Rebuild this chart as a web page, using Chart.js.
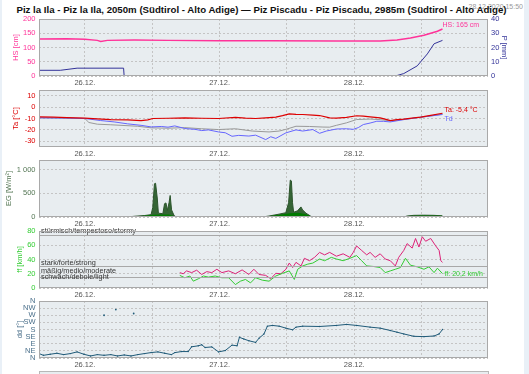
<!DOCTYPE html>
<html><head><meta charset="utf-8">
<script src="https://cdn.jsdelivr.net/npm/chart.js@4"></script>
<style>
html,body{margin:0;padding:0;background:#fff;width:529px;height:374px;overflow:hidden;position:relative;font-family:"Liberation Sans",Arial,sans-serif}
canvas{position:absolute;left:0}
#title{position:absolute;left:0;width:529px;text-align:center;font-weight:bold;white-space:nowrap;color:#111}
#stamp{position:absolute;top:3px;right:6px;font-size:7px;color:#9a9a9a}
#stripR{position:absolute;left:524px;top:0;width:5px;height:374px;background:#e9f0f7}
#stripL{position:absolute;left:0;top:0;width:2px;height:374px;background:#e9f0f7}
#next{position:absolute;left:39px;top:371px;width:448px;height:10px;border:1px solid #b8b8b8;background:#e8edf0}
</style></head>
<body>
<div id="stripL"></div><div id="stripR"></div>
<div id="stamp">28.12.2020 15:50</div>
<div id="title">Piz la Ila - Piz la Ila, 2050m (Südtirol - Alto Adige) — Piz Piscadu - Piz Piscadu, 2985m (Südtirol - Alto Adige)</div>
<canvas id="c1" width="529" height="79"></canvas>
<canvas id="c2" width="529" height="79"></canvas>
<canvas id="c3" width="529" height="79"></canvas>
<canvas id="c4" width="529" height="79"></canvas>
<canvas id="c5" width="529" height="79"></canvas>
<div id="next"></div>
<script>
// ---------- DATA (hours relative to 26.12. 00:00) ----------
const xTickHours = [0, 24, 48];
const xTickLabels = ['26.12.', '27.12.', '28.12.'];
const xGridHours = [0, 12, 24, 36, 48, 60];

const hsHours  = [-8.16, -3.18, 0, 2.22, 2.82, 4.02, 8.82, 14.82, 23.82, 32.82, 44.82, 52.62, 55.62, 58.02, 60.42, 62.82, 63.72];
const hsValues = [129.8, 131, 128.6, 125, 121.4, 125, 126, 125, 123.8, 123.8, 122.6, 122.6, 126, 133, 143, 157, 165];

const pHours  = [-8.16, -4.38, -1.38, 6.9, 7.0, 55.32, 56.82, 59.22, 61.02, 62.22, 63.72];
const pValues = [4, 4, 5.5, 5.5, 0, 0, 1.7, 7.1, 15.5, 22.6, 25];

const taHours  = [-8.16, -5.58, -3.18, 0, 2.22, 4.62, 7.62, 10.02, 11.22, 12.12, 14.82, 17.82, 20.82, 23.82, 26.82, 28.62, 30.42, 32.22, 34.02, 35.22, 36.42, 37.62, 38.82, 40.62, 41.82, 43.62, 44.82, 46.62, 48.42, 49.62, 50.82, 52.62, 53.82, 54.42, 55.62, 56.82, 58.62, 59.82, 61.62, 63.72];
const taValues = [-8.5, -8.8, -9.2, -9.7, -10.3, -11, -11.2, -11.8, -11.2, -10, -9.8, -9.4, -9.8, -10, -9, -9.6, -10, -9.4, -8.8, -7.5, -5.9, -6.3, -6.5, -7, -7.4, -9.4, -9.6, -9, -7.6, -8, -8.5, -9.5, -11, -11.8, -11, -10.5, -9.4, -8.8, -7.2, -5.4];

const tdHours  = [-8.16, -3.18, 0, 2.82, 5.22, 7.62, 10.02, 11.82, 13.62, 14.82, 16.02, 17.82, 19.62, 20.82, 22.02, 23.82, 25.02, 26.22, 27.42, 29.22, 30.42, 32.22, 33.12, 34.02, 35.82, 37.62, 38.82, 40.62, 41.82, 43.02, 44.82, 46.62, 47.82, 48.72, 49.62, 50.82, 52.02, 53.22, 54.42, 55.62, 56.82, 59.82, 61.62, 63.72];
const tdValues = [-9.4, -9.6, -10, -11.8, -13, -14.7, -16, -17.4, -17, -17.6, -16.5, -18.8, -19.5, -20.6, -20, -21.8, -22.5, -25.6, -24.8, -25.4, -24.6, -28.5, -26, -27.5, -22.6, -20, -21, -19.7, -23, -21, -19.2, -19, -19.5, -18, -15.3, -14, -12.4, -12.5, -13, -12, -11, -8.8, -7.8, -6.5];

const t2Hours  = [-8.16, 0, 0.72, 2.22, 4.62, 9.42, 11.82, 14.82, 17.82, 20.82, 23.82, 26.82, 29.82, 32.82, 34.62, 35.82, 37.62, 40.02, 42.42, 43.62, 44.82, 46.62, 48.42, 50.82, 52.62, 54.42, 56.82, 59.82, 63.72];
const t2Values = [-9.4, -10, -13.5, -15, -15.5, -16.8, -18.2, -18.5, -18, -19, -19.7, -19, -21, -21.8, -21, -19.5, -16.8, -17, -17.5, -17.6, -16, -13.8, -10.9, -10.5, -11, -12, -10.8, -9, -6.2];

const egHours  = [-8.16, 7.6, 8.8, 10.6, 11.8, 12.1, 12.4, 12.6, 12.9, 13.1, 13.9, 14.2, 14.45, 14.7, 15.0, 15.2, 15.45, 15.9, 16.3, 31.6, 32.8, 34.6, 35.8, 36.3, 36.6, 36.8, 37.0, 37.2, 37.9, 38.5, 38.8, 39.4, 40.2, 40.6, 56.8, 57.4, 58.6, 60.4, 62.2, 63.7];
const egValues = [0, 0, 15, 30, 50, 200, 700, 710, 400, 80, 70, 280, 296, 140, 300, 453, 150, 30, 0, 0, 20, 60, 90, 300, 777, 760, 300, 100, 130, 212, 150, 80, 20, 0, 0, 20, 35, 38, 35, 25];
const egBaseHours  = [-8.16, 7.6, 9, 11, 12, 13.5, 15, 15.9, 16.3, 31.6, 33, 35, 36.5, 38, 39.4, 40.3, 40.6, 56.8, 57.4, 60, 63.7];
const egBaseValues = [0, 0, 10, 30, 45, 55, 55, 20, 0, 0, 20, 55, 80, 90, 60, 15, 0, 0, 20, 30, 25];

const ffxHours  = [16.92, 17.52, 18.12, 19.02, 19.92, 20.82, 21.72, 22.62, 23.52, 24.42, 25.62, 26.82, 28.02, 29.22, 30.12, 31.02, 32.22, 33.12, 34.02, 34.92, 35.82, 36.42, 37.02, 37.62, 38.52, 39.12, 40.02, 40.92, 41.82, 42.72, 43.62, 44.82, 46.02, 47.22, 47.82, 48.42, 49.32, 50.22, 50.82, 51.72, 52.62, 53.52, 54.42, 55.32, 55.92, 56.82, 57.42, 58.32, 58.92, 59.52, 60.12, 60.72, 61.62, 62.52, 63.12, 63.42, 63.72];
const ffxValues = [21.6, 20, 24, 21.6, 25, 19, 23, 21.6, 26.3, 21.6, 24, 20, 25.4, 19, 26.3, 19, 17.7, 12.9, 20.6, 20, 26.3, 35, 28.7, 36, 31, 41.7, 38.3, 43, 50, 46.5, 50, 44.6, 48, 43, 50, 59, 52.7, 46.5, 50, 43, 48, 40.7, 38.3, 31, 43, 52.7, 62.3, 56, 69.5, 57.5, 71.9, 65.6, 69.5, 59, 52.7, 38.3, 36];
const ffHours  = [16.92, 17.82, 18.72, 19.32, 20.22, 21.12, 22.02, 23.22, 24.42, 25.62, 26.82, 27.72, 28.62, 29.52, 30.42, 31.62, 32.82, 34.02, 35.22, 36.42, 37.32, 37.92, 38.82, 39.72, 40.62, 41.82, 42.72, 43.92, 44.82, 46.02, 47.22, 48.42, 49.32, 50.22, 51.42, 52.62, 53.52, 54.42, 55.32, 56.22, 57.12, 58.02, 59.22, 60.42, 61.32, 62.22, 62.82, 63.72];
const ffValues = [17.7, 14.4, 16.8, 9.6, 12.9, 16.8, 15.3, 16.8, 14.4, 14.4, 4.8, 9.6, 12, 7.2, 14.4, 11, 9.6, 16.8, 20.6, 24, 12, 26.3, 31, 33.5, 35, 40.7, 38.3, 43, 40.7, 38.3, 41.7, 45.5, 38.3, 31, 30.2, 28.7, 21.6, 24, 26.3, 28.7, 41.7, 32, 29.7, 26.3, 29.7, 21.6, 27.8, 20.2];
const bftValues = [75, 31, 16];
const bftLabels = ['stürmisch/tempestoso/stormy', 'stark/forte/strong', 'mäßig/medio/moderate', 'schwach/debole/light'];
const bftLabelValues = [75, 31, 19.5, 11.5];

const ddHours  = [-8.16, -7.38, -6.18, -4.98, -3.78, -2.58, -1.38, -0.18, 1.02, 2.22, 3.42, 4.62, 5.82, 7.02, 8.22, 9.42, 10.62, 11.82, 13.02, 14.22, 15.42, 16.02, 17.22, 18.42, 19.02, 20.22, 20.82, 21.42, 22.62, 23.82, 25.02, 26.22, 27.12, 27.54, 28.32, 29.22, 30.42, 31.02, 31.92, 32.52, 33.42, 34.62, 35.82, 37.02, 37.62, 38.82, 41.82, 44.82, 46.62, 48.42, 50.82, 52.62, 54.42, 55.62, 56.82, 58.62, 60.42, 62.22, 63.12, 63.72];
const ddValues = [27.9, 17, 23.6, 30, 21.4, 27.9, 38.6, 23.6, 12.9, 21.4, 17, 21.4, 12.9, 19.3, 12.9, 21.4, 27.9, 34.3, 38.6, 30, 21.4, 34, 40.7, 40.7, 70.7, 77, 83.6, 66.4, 70, 38.6, 47, 81.4, 77, 130.7, 120, 109, 98.6, 124.3, 152, 201, 205.7, 201, 188.6, 177.9, 195, 201, 199, 205.7, 212, 205.7, 195, 188.6, 173.6, 163, 152, 137, 135, 139, 152, 180];
const ddOutHours  = [3.42, 5.52, 8.7];
const ddOutValues = [270, 306, 281];
const ddTickLabels = ['N', 'NE', 'E', 'SE', 'S', 'SW', 'W', 'NW', 'N'];

// ---------- helpers ----------
const X_MIN = -8.17, X_MAX = 71.83;
const pts = (xs, ys) => xs.map((x, i) => ({x, y: ys[i]}));
Chart.defaults.font.family = '"Liberation Sans", Arial, sans-serif';
Chart.defaults.font.size = 7.5;
const GRID = '#c4c4c4';

const framePlugin = {
  id: 'frame',
  beforeDraw(chart) {
    const {ctx, chartArea: a} = chart;
    ctx.save(); ctx.fillStyle = '#e8edf0';
    ctx.fillRect(a.left, a.top, a.right - a.left, a.bottom - a.top); ctx.restore();
  },
  afterDatasetsDraw(chart) {
    const {ctx, chartArea: a} = chart;
    const o = chart.options.plugins.frame || {};
    ctx.save();
    if (o.bft) {
      const ys = chart.scales.y;
      ctx.strokeStyle = '#a8a8a8'; ctx.lineWidth = 1;
      o.bft.values.forEach(v => {
        const y = Math.round(ys.getPixelForValue(v)) + 0.5;
        ctx.beginPath(); ctx.moveTo(a.left, y); ctx.lineTo(a.right, y); ctx.stroke();
      });
      ctx.fillStyle = '#333'; ctx.font = '7.3px "Liberation Sans", Arial';
      ctx.textAlign = 'left'; ctx.textBaseline = 'bottom';
      o.bft.labels.forEach((t, i) => ctx.fillText(t, a.left + 2, ys.getPixelForValue(o.bft.labelValues[i]) + 0.5));
    }
    ctx.strokeStyle = '#a9a9a9'; ctx.lineWidth = 1;
    ctx.strokeRect(a.left + 0.5, a.top + 0.5, a.right - a.left - 1, a.bottom - a.top - 1);
    (o.labels || []).forEach(l => {
      const ds = chart.data.datasets[l.ds].data; const p = ds[ds.length - 1];
      const sx = chart.scales.x, sy = chart.scales[chart.data.datasets[l.ds].yAxisID || 'y'];
      ctx.fillStyle = l.color; ctx.font = '7px "Liberation Sans", Arial';
      ctx.textAlign = 'left'; ctx.textBaseline = 'middle';
      ctx.fillText(l.text, sx.getPixelForValue(p.x) + l.dx, sy.getPixelForValue(p.y) + l.dy);
    });
    ctx.restore();
  }
};

function xScale() {
  return {
    type: 'linear', min: X_MIN, max: X_MAX,
    afterBuildTicks: s => { s.ticks = xGridHours.map(v => ({value: v})); },
    afterFit: s => { s.height = 14; },
    ticks: {autoSkip: false, maxRotation: 0, padding: 2, color: '#555',
      callback: v => { const i = xTickHours.indexOf(v); return i >= 0 ? xTickLabels[i] : ''; }},
    grid: {color: GRID, drawTicks: false},
    border: {display: false, dash: [2, 2]}
  };
}
function yScale(o) {
  return {
    position: o.position || 'left', min: o.min, max: o.max,
    afterBuildTicks: s => { s.ticks = o.ticks.map(v => ({value: v})); },
    afterFit: s => { s.width = o.width || 39; },
    ticks: {autoSkip: false, padding: o.tickPad || 3.5, color: o.color, callback: o.cb || (v => String(v))},
    grid: o.noGrid ? {display: false, drawTicks: false} : {color: GRID, drawTicks: false},
    border: {display: false, dash: [2, 2]},
    title: {display: true, text: o.title, color: o.color, padding: {top: o.titlePad, bottom: 0}}
  };
}
function make(id, top, datasets, scales, frameOpts, padRight) {
  const el = document.getElementById(id);
  el.style.top = (top - 8) + 'px';
  return new Chart(el, {
    type: 'line',
    data: {datasets},
    options: {
      responsive: false, animation: false, events: [],
      layout: {padding: {top: 8, right: padRight, left: 0, bottom: 0}},
      plugins: {legend: {display: false}, tooltip: {enabled: false}, frame: frameOpts || {}},
      elements: {point: {radius: 0}, line: {tension: 0}},
      scales
    },
    plugins: [framePlugin]
  });
}

// ---------- panel 1: HS / P ----------
make('c1', 19, [
  {data: pts(hsHours, hsValues), borderColor: '#ff3399', borderWidth: 1.5, yAxisID: 'y'},
  {data: pts(pHours, pValues), borderColor: '#333399', borderWidth: 1, yAxisID: 'y2'}
], {
  x: xScale(),
  y: yScale({min: 0, max: 200, ticks: [0, 50, 100, 150, 200], color: '#ff3399', title: 'HS [cm]', titlePad: 11}),
  y2: yScale({position: 'right', width: 41, min: 0, max: 40, ticks: [0, 10, 20, 30, 40], color: '#333399', title: 'P [mm]', titlePad: 20, noGrid: true, tickPad: 3})
}, {labels: [{ds: 0, text: 'HS: 165 cm', color: '#ff3399', dx: 0, dy: -4}]}, 0);

// ---------- panel 2: Ta / Td ----------
make('c2', 90, [
  {data: pts(taHours, taValues), borderColor: '#dd0000', borderWidth: 1.2},
  {data: pts(tdHours, tdValues), borderColor: '#6666ff', borderWidth: 1},
  {data: pts(t2Hours, t2Values), borderColor: '#999999', borderWidth: 1}
], {
  x: xScale(),
  y: yScale({min: -35, max: 15, ticks: [-30, -20, -10, 0, 10], color: '#dd0000', title: 'Ta [°C]', titlePad: 11})
}, {labels: [
  {ds: 0, text: 'Ta: -5,4 °C', color: '#dd0000', dx: 2, dy: -3},
  {ds: 1, text: 'Td', color: '#6666ff', dx: 2, dy: 5}
]}, 41);

// ---------- panel 3: EG ----------
make('c3', 160, [
  {data: pts(egBaseHours, egBaseValues), borderColor: '#007700', borderWidth: 0, backgroundColor: '#007a00', fill: 'origin'},
  {data: pts(egHours, egValues), borderColor: '#2c552c', borderWidth: 1, backgroundColor: '#356535', fill: 'origin'}
], {
  x: xScale(),
  y: yScale({min: 0, max: 1200, ticks: [0, 500, 1000], color: '#557755', title: 'EG [W/m²]', titlePad: 4.5,
    cb: v => v === 1000 ? '1 000' : String(v)})
}, {}, 41);

// ---------- panel 4: ff ----------
make('c4', 231, [
  {data: pts(ffHours, ffValues), borderColor: '#33cc33', borderWidth: 1},
  {data: pts(ffxHours, ffxValues), borderColor: '#dd2277', borderWidth: 1}
], {
  x: xScale(),
  y: yScale({min: 0, max: 80, ticks: [0, 20, 40, 60, 80], color: '#33cc33', title: 'ff [km/h]', titlePad: 15.5})
}, {
  bft: {values: bftValues, labels: bftLabels, labelValues: bftLabelValues},
  labels: [{ds: 0, text: 'ff: 20,2 km/h', color: '#33cc33', dx: 2, dy: 0}]
}, 41);

// ---------- panel 5: dd ----------
make('c5', 301, [
  {data: pts(ddHours, ddValues), borderColor: '#1f5a78', borderWidth: 1, pointRadius: 0.7, pointBackgroundColor: '#1f5a78', pointBorderWidth: 0},
  {data: pts(ddOutHours, ddOutValues), showLine: false, pointRadius: 0.9, pointBackgroundColor: '#1f5a78', pointBorderWidth: 0}
], {
  x: xScale(),
  y: yScale({min: 0, max: 360, ticks: [0, 45, 90, 135, 180, 225, 270, 315, 360], color: '#4a6f8a', title: 'dd [°]', titlePad: 15.5,
    cb: (v) => ddTickLabels[Math.round(v / 45)]})
}, {}, 41);

// ---------- title sizing ----------
(function () {
  const t = document.getElementById('title');
  const c = document.createElement('canvas').getContext('2d');
  c.font = 'bold 100px "Liberation Sans", Arial';
  const w = c.measureText(t.textContent).width;
  const fs = 100 * 492 / w;
  t.style.fontSize = fs + 'px';
  t.style.lineHeight = fs + 'px';
  t.style.left = '-3px';
  t.style.top = (9.5 - fs / 2) + 'px';
})();
</script>
</body></html>
